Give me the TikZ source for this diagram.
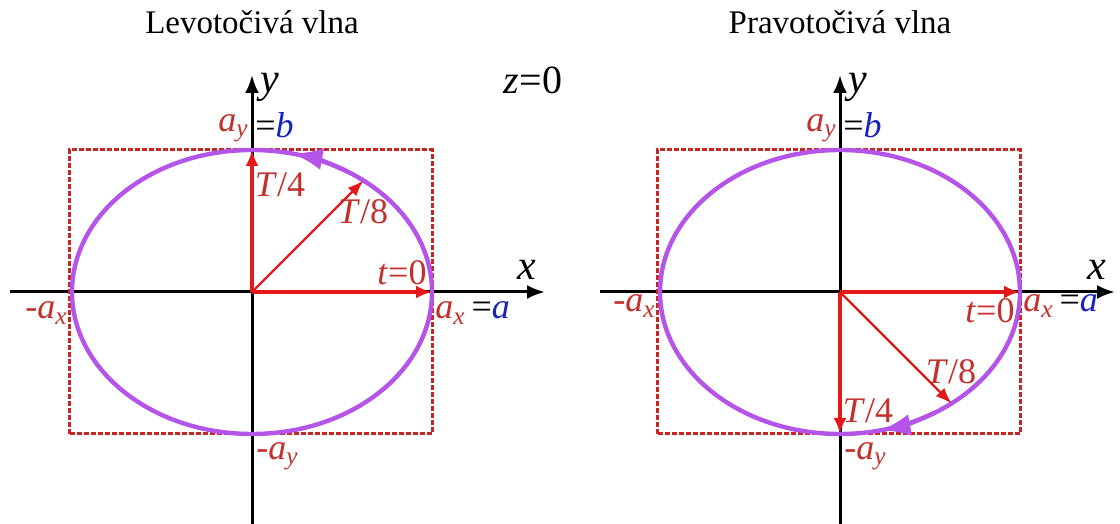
\documentclass[tikz,border=0pt]{standalone}
\usepackage{fontspec}
\setmainfont{Liberation Serif}
\usetikzlibrary{arrows.meta}
\definecolor{vecred}{RGB}{228,24,24}
\definecolor{lblred}{RGB}{196,48,44}
\definecolor{valblue}{RGB}{24,34,188}
\definecolor{orbit}{RGB}{180,84,232}
\definecolor{boxred}{RGB}{200,36,36}
\newcommand{\comp}[2]{\textit{#1}\textsubscript{\textit{#2}}}
\tikzset{
  axisline/.style={line width=1.5pt,-{Latex[length=9pt,width=7pt]}},
  vec/.style={vecred,line width=2.4pt,-{Latex[length=8pt,width=6.5pt]}},
  thinvec/.style={vecred,line width=1.1pt,-{Latex[length=8pt,width=6pt]}},
  orbitline/.style={orbit,line width=2.2pt},
  bound/.style={boxred,line width=1.5pt,dash pattern=on 2.5pt off 1pt},
  lbl/.style={font=\fontsize{18}{20}\selectfont,text=lblred,inner sep=0pt},
  axlbl/.style={font=\fontsize{21}{24}\selectfont\itshape,inner sep=0pt},
}

\begin{document}
\begin{tikzpicture}[x=0.5pt,y=0.5pt]
\useasboundingbox (0,0) rectangle (1120,524);
\foreach \cx/\s/\xa/\xb/\ly/\tq/\ttl [count=\i] in {
252/1/-242/293/-21/107/Levotočivá vlna,
840/-1/-240/275/-14/-119/Pravotočivá vlna}{
\begin{scope}[shift={(\cx,232)}]
  \node[font=\fontsize{16.5}{18}\selectfont] (title\i) at (0,270) {\ttl};
  \coordinate (o\i) at (0,0);
  \coordinate (xl\i) at (\xa,0);
  \coordinate (xr\i) at (\xb,0);
  \coordinate (yb\i) at (0,-232);
  \coordinate (yt\i) at (0,217);
  \coordinate (px\i) at (180,0);
  \coordinate (py\i) at (0,142*\s);
  \coordinate (pd\i) at (111.5,111.5*\s);
  \draw[axisline] (xl\i) -- (xr\i);
  \draw[axisline] (yb\i) -- (yt\i);
  \draw[bound] (-183,-142) rectangle (180,142);
  \draw[orbitline] (o\i) ellipse [x radius=180,y radius=142];
  \draw[orbitline,-{Latex[length=15pt,width=11pt]}] ({180*cos(58*\s)},{142*sin(58*\s)})
    arc[start angle=58*\s,end angle=77*\s,x radius=180,y radius=142];
  \draw[vec] (o\i) -- (px\i);
  \draw[vec] (o\i) -- (py\i);
  \draw[thinvec] (o\i) -- (pd\i);
  % labels
  \node[axlbl] (ylab\i) at (18,205) {y};
  \node[axlbl] (xlab\i) at (\xb-18,22) {x};
  \node[lbl,anchor=east] (ay\i) at (-3,164) {\comp{a}{y}};
  \node[lbl,anchor=west,text=black] (b\i) at (3,167) {=\textcolor{valblue}{\textit{b}}};
  \node[lbl,anchor=east] (mx\i) at (-184,\ly) {-\comp{a}{x}};
  \node[lbl,anchor=west] (ax\i) at (183,\ly) {\comp{a}{x}\,\textcolor{black}{=}\textcolor{valblue}{\textit{a}}};
  \node[lbl,anchor=west] (my\i) at (4,-164) {-\comp{a}{y}};
  \node[lbl] (t0\i) at (150,19*\s) {\textit{t}=0};
  \node[lbl] (t8\i) at (111,80*\s) {\textit{T}/8};
  \node[lbl] (t4\i) at (28,\tq) {\textit{T}/4};
\end{scope}}
\node[font=\fontsize{20}{24}\selectfont] (z0) at (533,444) {\textit{z}=0};
\end{tikzpicture}
\end{document}
